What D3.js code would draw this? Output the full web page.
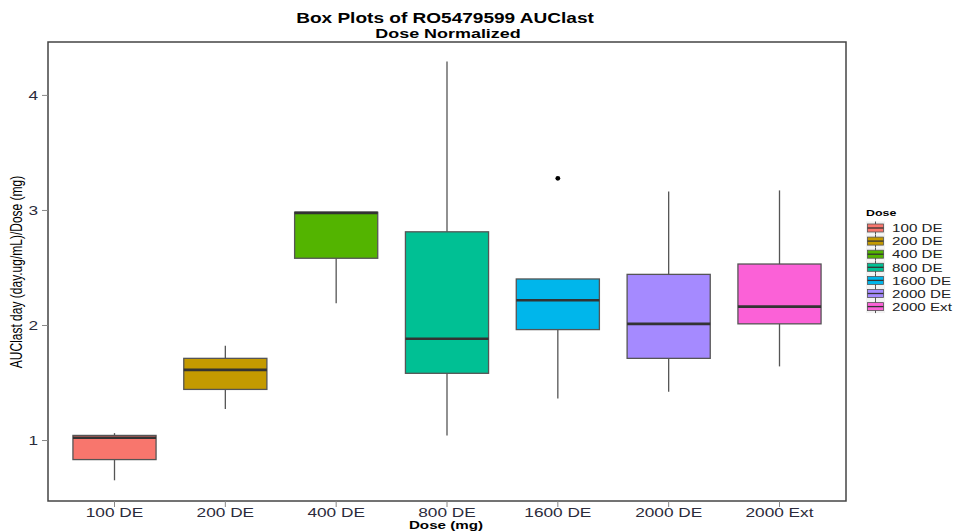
<!DOCTYPE html>
<html>
<head>
<meta charset="utf-8">
<script src="https://cdn.jsdelivr.net/npm/d3@7"></script>
<style>
  body { margin: 0; background: #fff; }
  svg { display: block; font-family: "Liberation Sans", Arial, sans-serif; }
</style>
</head>
<body>
<svg id="chart" width="958" height="531"></svg>
<script>
// Dose groups and their five-number summaries (AUClast / dose)
const doses   = ["100 DE", "200 DE", "400 DE", "800 DE", "1600 DE", "2000 DE", "2000 Ext"];
const lowers  = [0.65, 1.27, 2.19, 1.04, 1.36, 1.42, 1.64];
const q1s     = [0.83, 1.44, 2.58, 1.58, 1.96, 1.71, 2.01];
const medians = [1.02, 1.61, 2.975, 1.88, 2.215, 2.01, 2.16];
const q3s     = [1.04, 1.71, 2.98, 2.81, 2.40, 2.44, 2.53];
const uppers  = [1.06, 1.82, 2.98, 4.29, 2.40, 3.16, 3.17];
const outliers = [{dose: "1600 DE", value: 3.275}];
const colors  = ["#F8766D", "#C49A00", "#53B400", "#00C094", "#00B6EB", "#A58AFF", "#FB61D7"];
const yTicks  = [1, 2, 3, 4];

const svg = d3.select("#chart");
const panel = {left: 48, top: 42, right: 846, bottom: 501};
const WIDEN = 1.38; // text is drawn horizontally widened

// text helper: places a widened label at (x, y)
function label(parent, x, y, str, opts = {}) {
  const g = parent.append("g").attr("transform", `translate(${x},${y}) scale(${WIDEN},1)`);
  return g.append("text")
    .attr("text-anchor", opts.anchor || "start")
    .style("font-size", (opts.size || 12) + "px")
    .style("font-weight", opts.bold ? "bold" : "normal")
    .attr("fill", opts.fill || "#000")
    .text(str);
}

const x = d3.scaleBand().domain(doses)
  .range([panel.left, panel.right]).paddingOuter(0.1).paddingInner(0);
const y = d3.scaleLinear().domain([0.47, 4.46]).range([panel.bottom, panel.top]);
const color = d3.scaleOrdinal().domain(doses).range(colors);

const boxes = doses.map((d, i) => ({
  dose: d, lower: lowers[i], q1: q1s[i], median: medians[i], q3: q3s[i], upper: uppers[i]
}));

const boxW = x.bandwidth() * 0.75;
const g = svg.append("g");

const bx = g.selectAll("g.box").data(boxes).join("g").attr("class", "box")
  .attr("transform", d => `translate(${x(d.dose) + x.bandwidth() / 2},0)`);

// whiskers
bx.append("line").attr("x1", 0).attr("x2", 0)
  .attr("y1", d => y(d.upper)).attr("y2", d => y(d.q3))
  .attr("stroke", "#555").attr("stroke-width", 1.3);
bx.append("line").attr("x1", 0).attr("x2", 0)
  .attr("y1", d => y(d.q1)).attr("y2", d => y(d.lower))
  .attr("stroke", "#555").attr("stroke-width", 1.3);

// boxes
bx.append("rect")
  .attr("x", -boxW / 2).attr("width", boxW)
  .attr("y", d => y(d.q3)).attr("height", d => y(d.q1) - y(d.q3))
  .attr("fill", d => color(d.dose))
  .attr("stroke", "#555").attr("stroke-width", 1.3);

// medians
bx.append("line")
  .attr("x1", -boxW / 2).attr("x2", boxW / 2)
  .attr("y1", d => y(d.median)).attr("y2", d => y(d.median))
  .attr("stroke", "#333").attr("stroke-width", 2.6);

// outliers
g.selectAll("circle.out").data(outliers).join("circle").attr("class", "out")
  .attr("cx", d => x(d.dose) + x.bandwidth() / 2)
  .attr("cy", d => y(d.value)).attr("r", 2.4).attr("fill", "#000");

// panel border
svg.append("rect")
  .attr("x", panel.left).attr("y", panel.top)
  .attr("width", panel.right - panel.left).attr("height", panel.bottom - panel.top)
  .attr("fill", "none").attr("stroke", "#444").attr("stroke-width", 1.5);

// axes: tick marks from d3, labels drawn widened
const xAxis = svg.append("g").attr("transform", `translate(0,${panel.bottom})`)
  .call(d3.axisBottom(x).tickSize(6).tickFormat(""));
const yAxis = svg.append("g").attr("transform", `translate(${panel.left},0)`)
  .call(d3.axisLeft(y).tickValues(yTicks).tickSize(6).tickFormat(""));
[xAxis, yAxis].forEach(a => {
  a.select(".domain").remove();
  a.selectAll(".tick line").attr("stroke", "#888");
});
xAxis.selectAll(".tick").each(function (d) {
  label(d3.select(this), 0, 15.5, d, {anchor: "middle", size: 12.5, fill: "#2b2b3b"});
});
yAxis.selectAll(".tick").each(function (d) {
  label(d3.select(this), -10, 4.5, d3.format("d")(d), {anchor: "end", size: 12.5, fill: "#2b2b3b"});
});

// titles
label(svg, 445, 23, "Box Plots of RO5479599 AUClast", {anchor: "middle", size: 13.8, bold: true});
label(svg, 448, 38, "Dose Normalized", {anchor: "middle", size: 13, bold: true});
label(svg, 446, 528.5, "Dose (mg)", {anchor: "middle", size: 11, bold: true});
svg.append("g").attr("transform", `translate(22,272) scale(${WIDEN},1) rotate(-90)`)
  .append("text").attr("text-anchor", "middle").style("font-size", "12px")
  .text("AUClast day (day.ug/mL)/Dose (mg)");

// legend
const leg = svg.append("g").attr("transform", "translate(866,0)");
label(leg, 0, 216, "Dose", {size: 9, bold: true});
const items = leg.selectAll("g.item").data(doses).join("g").attr("class", "item")
  .attr("transform", (d, i) => `translate(0,${228 + i * 13.1})`);
items.append("rect").attr("x", 0).attr("y", -6.5).attr("width", 19).attr("height", 13)
  .attr("fill", "#f2f2f2");
items.append("line").attr("x1", 9.5).attr("x2", 9.5).attr("y1", -6.5).attr("y2", 6.5)
  .attr("stroke", "#555");
items.append("rect").attr("x", 1.5).attr("y", -4).attr("width", 16).attr("height", 8)
  .attr("fill", d => color(d)).attr("stroke", "#555").attr("stroke-width", 0.8);
items.append("line").attr("x1", 1.5).attr("x2", 17.5).attr("y1", 0).attr("y2", 0)
  .attr("stroke", "#333").attr("stroke-width", 1.3);
items.each(function (d) {
  label(d3.select(this), 26, 4.2, d, {size: 11, fill: "#222"});
});
</script>
</body>
</html>
